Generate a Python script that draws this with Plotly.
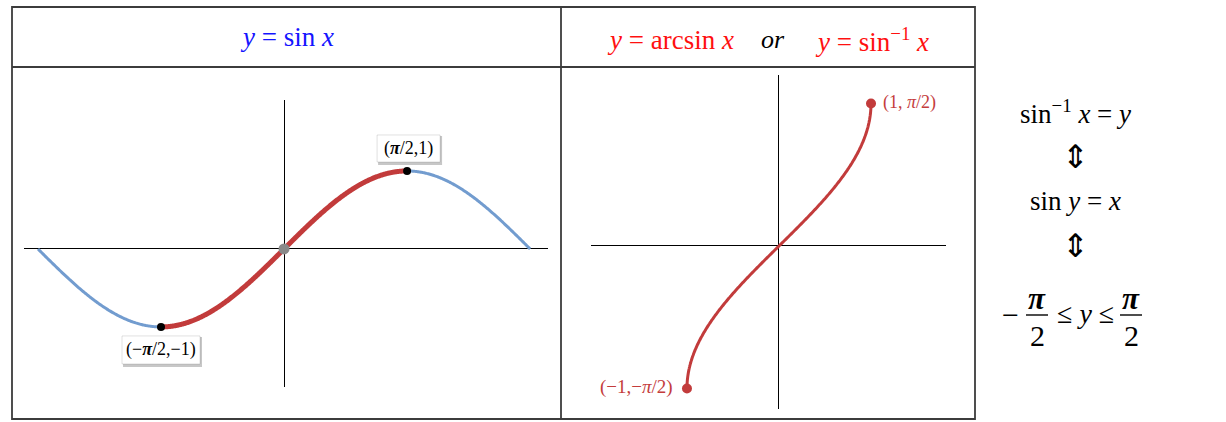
import numpy as np
import plotly.graph_objects as go

W, H = 1226, 422

# ---------------- data ----------------
sine_domain = [-np.pi, np.pi]            # full sine curve drawn (blue)
restricted_domain = [-np.pi / 2, np.pi / 2]  # restricted part (red)
key_x = [-np.pi / 2, np.pi / 2]
key_y = [-1, 1]
key_labels = ["(−<b><i>π</i></b>/2,−1)", "(<b><i>π</i></b>/2,1)"]
origin_x = [0]
origin_y = [0]
arcsin_end_x = [-1, 1]
arcsin_end_y = [-np.pi / 2, np.pi / 2]
arcsin_labels = ["(−1,−<i>π</i>/2)", "(1, <i>π</i>/2)"]

# curves of the functions named in the headers
xs_full = np.linspace(sine_domain[0], sine_domain[1], 600)
ys_full = np.sin(xs_full)
xs_red = np.linspace(restricted_domain[0], restricted_domain[1], 400)
ys_red = np.sin(xs_red)
t = np.linspace(restricted_domain[0], restricted_domain[1], 600)
xa = np.sin(t)
ya = np.arcsin(xa)

BLUE = "#729ccf"
RED = "#c23b3b"
LABEL_RED = "#c43c3c"
FONT = "Liberation Serif"


def px(x):
    return x / W


def py(y):
    return 1 - y / H


fig = go.Figure()
fig.add_trace(go.Scatter(x=xs_full, y=ys_full, mode="lines",
                         line=dict(color=BLUE, width=3, simplify=False),
                         xaxis="x", yaxis="y", hoverinfo="skip"))
fig.add_trace(go.Scatter(x=xs_red, y=ys_red, mode="lines",
                         line=dict(color=RED, width=5, simplify=False),
                         xaxis="x", yaxis="y", hoverinfo="skip"))
fig.add_trace(go.Scatter(x=origin_x, y=origin_y, mode="markers",
                         marker=dict(color="#8a8a8a", size=11), xaxis="x", yaxis="y"))
fig.add_trace(go.Scatter(x=key_x, y=key_y, mode="markers",
                         marker=dict(color="black", size=8), xaxis="x", yaxis="y"))
fig.add_trace(go.Scatter(x=xa, y=ya, mode="lines",
                         line=dict(color=RED, width=3, simplify=False),
                         xaxis="x2", yaxis="y2", hoverinfo="skip"))
fig.add_trace(go.Scatter(x=arcsin_end_x, y=arcsin_end_y, mode="markers",
                         marker=dict(color=RED, size=10), xaxis="x2", yaxis="y2"))

axis_common = dict(showgrid=False, showticklabels=False, ticks="", showline=False,
                   zeroline=True, zerolinecolor="black", zerolinewidth=1,
                   fixedrange=True)

shapes = []
annotations = []


def note(x, y, text, size, color="black", family=FONT):
    annotations.append(dict(x=px(x), y=py(y), xref="paper", yref="paper", text=text,
                            showarrow=False, xanchor="center", yanchor="middle",
                            font=dict(family=family, size=size, color=color)))


# table frame
LC = "#3c3c3c"
LW = 1.8
shapes.append(dict(type="rect", xref="paper", yref="paper", x0=px(12), x1=px(975),
                   y0=py(419), y1=py(7), line=dict(color=LC, width=LW)))
shapes.append(dict(type="line", xref="paper", yref="paper", x0=px(12), x1=px(975),
                   y0=py(67), y1=py(67), line=dict(color=LC, width=LW)))
shapes.append(dict(type="line", xref="paper", yref="paper", x0=px(561), x1=px(561),
                   y0=py(419), y1=py(7), line=dict(color=LC, width=LW)))

# label boxes on the sine graph (pixel-sized, anchored on the key points)
box_offsets = [(-39, 39, -37, -9), (-30, 33, 9, 36)]
for (bx, by, lab, (x0, x1, y0, y1)) in zip(key_x, key_y, key_labels, box_offsets):
    shapes.append(dict(type="rect", xref="x", yref="y", xsizemode="pixel",
                       ysizemode="pixel", xanchor=bx, yanchor=by,
                       x0=x0 + 1, x1=x1 + 2, y0=y0 - 3, y1=y1 - 1,
                       fillcolor="rgba(0,0,0,0.22)", line=dict(width=0), layer="above"))
    shapes.append(dict(type="rect", xref="x", yref="y", xsizemode="pixel",
                       ysizemode="pixel", xanchor=bx, yanchor=by,
                       x0=x0, x1=x1, y0=y0, y1=y1,
                       fillcolor="white", line=dict(color="rgba(0,0,0,0.12)", width=1),
                       layer="above"))
    annotations.append(dict(x=bx, y=by, xref="x", yref="y", text=lab, showarrow=False,
                            xanchor="center", yanchor="middle",
                            xshift=(x0 + x1) / 2, yshift=(y0 + y1) / 2,
                            font=dict(family=FONT, size=18, color="black")))

# labels on the arcsin graph
annotations.append(dict(x=arcsin_end_x[1], y=arcsin_end_y[1], xref="x2", yref="y2",
                        text=arcsin_labels[1], showarrow=False, xanchor="left",
                        yanchor="middle", xshift=10, yshift=1,
                        font=dict(family=FONT, size=18, color=LABEL_RED)))
annotations.append(dict(x=arcsin_end_x[0], y=arcsin_end_y[0], xref="x2", yref="y2",
                        text=arcsin_labels[0], showarrow=False, xanchor="right",
                        yanchor="middle", xshift=-12, yshift=1,
                        font=dict(family=FONT, size=19, color=LABEL_RED)))

# headers
note(287, 37, "<i>y</i> = sin <i>x</i>", 27, "#1414ff")
note(670, 40, "<i>y</i> = arcsin <i>x</i>", 27, "#ff1010")
note(773, 40, "<i>or</i>", 26, "black")
note(872, 40, "<i>y</i> = sin<sup>−1</sup> <i>x</i>", 27, "#ff1010")

# equivalences on the right
RX = 1075
RF = 27
note(RX, 112, "sin<sup>−1</sup> <i>x</i> = <i>y</i>", RF)
note(RX, 157, "⇕", 32, family="DejaVu Sans")
note(RX, 201, "sin <i>y</i> = <i>x</i>", RF)
note(RX, 246, "⇕", 32, family="DejaVu Sans")

BAR_Y = 315
note(1010, BAR_Y - 1, "−", 30)
note(1085, BAR_Y - 2, "≤ <i>y</i> ≤", 28)
for fx in (1037, 1131):
    note(fx, BAR_Y - 17, "<b><i>π</i></b>", 31)
    note(fx, BAR_Y + 20, "2", 30)
    shapes.append(dict(type="line", xref="paper", yref="paper",
                       x0=px(fx - 11), x1=px(fx + 11), y0=py(BAR_Y), y1=py(BAR_Y),
                       line=dict(color="black", width=1.4)))

fig.update_layout(
    width=W, height=H,
    margin=dict(l=0, r=0, t=0, b=0),
    paper_bgcolor="white", plot_bgcolor="white",
    showlegend=False,
    xaxis=dict(domain=[px(24), px(548)], range=[-3.32, 3.37], anchor="y", **axis_common),
    yaxis=dict(domain=[py(387), py(100)], range=[-1.77, 1.91], anchor="x", **axis_common),
    xaxis2=dict(domain=[px(591), px(946)], range=[-2.043, 1.815], anchor="y2",
                **axis_common),
    yaxis2=dict(domain=[py(409), py(75)], range=[-1.797, 1.885], anchor="x2",
                **axis_common),
    shapes=shapes,
    annotations=annotations,
    hovermode=False,
)

fig.write_html("out.html", config={"displayModeBar": False},
               post_script="document.body.style.margin='0';")
